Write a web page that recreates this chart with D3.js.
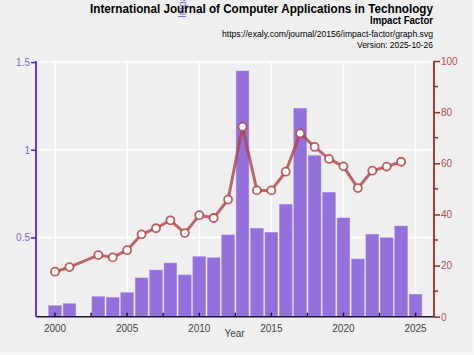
<!DOCTYPE html>
<html>
<head>
<meta charset="utf-8">
<script src="https://cdn.jsdelivr.net/npm/d3@7"></script>
<style>
html,body{margin:0;padding:0;background:#f7f7f7;}
svg{display:block;font-family:"Liberation Sans",Arial,sans-serif;}
</style>
</head>
<body>
<svg id="chart" width="474" height="355"></svg>
<script>
const years = [2000,2001,2003,2004,2005,2006,2007,2008,2009,2010,2011,2012,2013,2014,2015,2016,2017,2018,2019,2020,2021,2022,2023,2024,2025];
const barValues = [0.111,0.122,0.162,0.158,0.185,0.269,0.314,0.354,0.286,0.390,0.384,0.514,1.449,0.552,0.529,0.689,1.236,0.966,0.757,0.611,0.377,0.518,0.498,0.565,0.176];
const lineYears = [2000,2001,2003,2004,2005,2006,2007,2008,2009,2010,2011,2012,2013,2014,2015,2016,2017,2018,2019,2020,2021,2022,2023,2024];
const lineValues = [17.6,19.4,24.1,23.2,26.0,32.2,34.6,37.7,32.7,39.7,38.6,45.8,74.3,49.4,49.4,56.7,71.7,66.4,61.7,58.8,50.3,57.1,58.7,60.6];
const xTicks = [2000,2005,2010,2015,2020,2025];
const xMinorTicks = [2002.5,2007.5,2012.5,2017.5,2022.5];
const leftTicks = [0.5,1,1.5];
const rightTicks = [0,20,40,60,80,100];
const rightMinorTicks = [10,30,50,70,90];
const titleLines = ["International Journal of Computer Applications in Technology","Impact Factor","https://exaly.com/journal/20156/impact-factor/graph.svg","Version: 2025-10-26"];

const svg = d3.select("#chart");
svg.append("rect").attr("width",472).attr("height",352).attr("fill","#efefef");

const x = d3.scaleLinear().domain([1998.68,2026.28]).range([36,434]);
const yL = d3.scaleLinear().domain([0.048,1.506]).range([316.7,61]);
const yR = d3.scaleLinear().domain([0,100]).range([316.7,61]);
const bw = 12.7;

// grid
const grid = svg.append("g");
grid.selectAll("line.h").data(leftTicks).join("line")
  .attr("x1",36).attr("x2",434).attr("y1",d=>yL(d)).attr("y2",d=>yL(d))
  .attr("stroke","#ffffff").attr("stroke-width",1.5);
grid.selectAll("line.v").data(xTicks).join("line").attr("class","v")
  .attr("x1",d=>x(d)).attr("x2",d=>x(d)).attr("y1",61).attr("y2",316.7)
  .attr("stroke","#ffffff").attr("stroke-width",1.5);

// bars
svg.append("g").selectAll("rect").data(years).join("rect")
  .attr("x",(d)=>x(d)-bw/2).attr("width",bw)
  .attr("y",(d,i)=>yL(barValues[i]))
  .attr("height",(d,i)=>yL.range()[0]-yL(barValues[i]))
  .attr("fill","#9370db").attr("stroke","#a88ae6").attr("stroke-width",0.5);

// line
const lineColor = "#b24446";
const line = d3.line().x((d,i)=>x(lineYears[i])).y(d=>yR(d));
svg.append("path").datum(lineValues).attr("d",line)
  .attr("fill","none").attr("stroke",lineColor).attr("stroke-width",3).attr("stroke-opacity",0.8)
  .attr("stroke-linejoin","round");
svg.append("g").selectAll("circle").data(lineValues).join("circle")
  .attr("cx",(d,i)=>x(lineYears[i])).attr("cy",d=>yR(d)).attr("r",4)
  .attr("fill","#ffffff").attr("stroke",lineColor).attr("stroke-opacity",0.85).attr("stroke-width",1.8);

// x axis
const xAxisG = svg.append("g").attr("transform","translate(0,316.7)");
xAxisG.append("line").attr("x1",36).attr("x2",434).attr("stroke","#1e1438").attr("stroke-width",1.5);
xAxisG.selectAll("line.t").data(xTicks.concat(xMinorTicks)).join("line").attr("class","t")
  .attr("x1",d=>x(d)).attr("x2",d=>x(d)).attr("y1",0).attr("y2",-4)
  .attr("stroke","#1e1438").attr("stroke-width",1.5);
xAxisG.selectAll("text").data(xTicks).join("text")
  .attr("x",d=>x(d)).attr("y",15.5).attr("text-anchor","middle")
  .attr("font-size",10).attr("fill","#444").text(d=>d);
svg.append("text").attr("x",234.5).attr("y",336.5).attr("text-anchor","middle")
  .attr("font-size",10).attr("fill","#444").text("Year");

// left axis
const leftAxis = d3.axisLeft(yL).tickValues(leftTicks).tickSize(5).tickFormat(d3.format("~g"));
const lg = svg.append("g").attr("transform","translate(36,0)").call(leftAxis);
lg.select(".domain").attr("stroke","#5a22d6").attr("stroke-width",1.8).attr("d","M0,61V316.7");
lg.selectAll(".tick line").attr("stroke","#5a22d6").attr("stroke-width",1.5);
lg.selectAll(".tick text").attr("fill","#7a68cc").attr("font-size",10).attr("font-family","Liberation Sans, Arial, sans-serif").attr("x",-6).attr("dy","0.34em");
svg.append("text").attr("transform","translate(186,18) rotate(-90)")
  .attr("font-size",10).attr("fill","#7a68cc").text("Impact Factor");

// right axis
const rightAxis = d3.axisRight(yR).tickValues(rightTicks).tickSize(6);
const rg = svg.append("g").attr("transform","translate(434,0)").call(rightAxis);
rg.select(".domain").attr("stroke","#9e2b2b").attr("stroke-width",1.8).attr("d","M0,61V316.7");
rg.selectAll(".tick line").attr("stroke","#9e2b2b").attr("stroke-width",1.5);
rg.selectAll(".tick text").attr("fill","#b05050").attr("font-size",10).attr("font-family","Liberation Sans, Arial, sans-serif").attr("x",7).attr("dy","0.34em");
rg.selectAll("line.minor").data(rightMinorTicks).join("line").attr("class","minor")
  .attr("x1",0).attr("x2",4).attr("y1",d=>yR(d)).attr("y2",d=>yR(d))
  .attr("stroke","#9e2b2b").attr("stroke-width",1.5);

// titles
const tg = svg.append("g").attr("text-anchor","end").attr("fill","#000");
tg.append("text").attr("x",433).attr("y",12.5).attr("font-size",12).attr("font-weight","bold")
  .attr("textLength",343).attr("lengthAdjust","spacingAndGlyphs").text(titleLines[0]);
tg.append("text").attr("x",433).attr("y",23.5).attr("font-size",10).attr("font-weight","bold")
  .attr("textLength",63).attr("lengthAdjust","spacingAndGlyphs").text(titleLines[1]);
tg.append("text").attr("x",433).attr("y",36.5).attr("font-size",9.5)
  .attr("textLength",211).attr("lengthAdjust","spacingAndGlyphs").text(titleLines[2]);
tg.append("text").attr("x",433).attr("y",47.5).attr("font-size",9.5)
  .attr("textLength",76).attr("lengthAdjust","spacingAndGlyphs").text(titleLines[3]);
</script>
</body>
</html>
